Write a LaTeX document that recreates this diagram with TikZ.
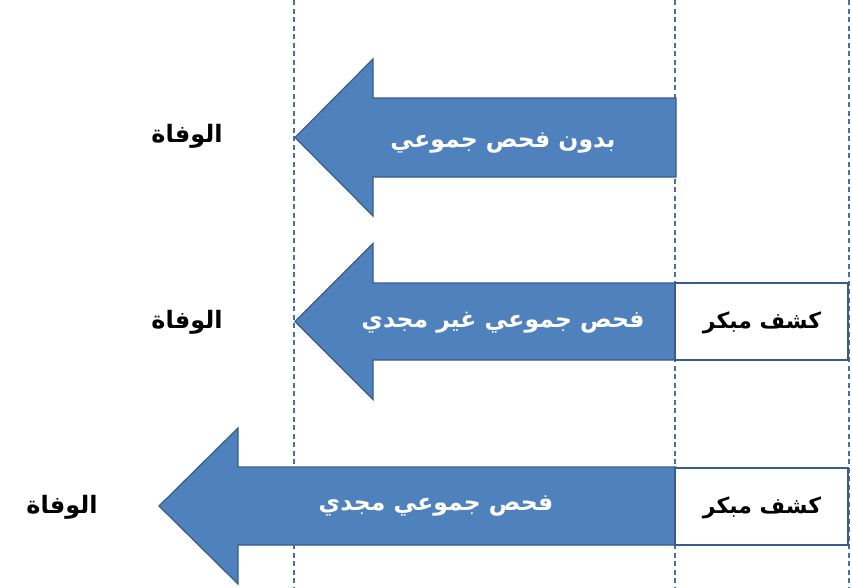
\documentclass[tikz,border=0pt]{standalone}
\usepackage{fontspec}
\TeXXeTstate=1
\newfontfamily\arabicfont[Script=Arabic]{DejaVu Sans}
\definecolor{arfill}{HTML}{4F81BD}
\definecolor{ardraw}{HTML}{385D8A}
\definecolor{guide}{HTML}{4A6FA5}
\tikzset{
  arrowshape/.style={fill=arfill, draw=ardraw, line width=1.2pt, line join=miter},
  boxshape/.style={fill=white, draw=ardraw, line width=1.2pt},
  guideline/.style={draw=guide, line width=1.2pt, dash pattern=on 5pt off 3.5pt},
  intext/.style={text=white, font=\arabicfont\bfseries\fontsize{23.5}{26}\selectfont},
  boxtext/.style={text=black, font=\arabicfont\bfseries\fontsize{22}{25}\selectfont},
  deathtext/.style={text=black, font=\arabicfont\bfseries\fontsize{24}{27}\selectfont},
}
\begin{document}
\begin{tikzpicture}[x=1pt,y=-1pt]
\useasboundingbox (0,0) rectangle (852,587);
% guide lines
\draw[guideline] (294,0) -- (294,587);
\draw[guideline] (675,0) -- (675,587);
\draw[guideline] (849,0) -- (849,587);
% arrow 1
\draw[arrowshape] (676,98) -- (373,98) -- (373,59) -- (295,137.5) -- (373,216) -- (373,177) -- (676,177) -- cycle;
% arrow 2
\draw[arrowshape] (676,283) -- (373,283) -- (373,243.5) -- (295,321.5) -- (373,399.5) -- (373,360) -- (676,360) -- cycle;
\draw[boxshape] (675,283) rectangle (848,360);
% arrow 3
\draw[arrowshape] (676,467) -- (238,467) -- (238,428) -- (159,506) -- (238,584) -- (238,545) -- (676,545) -- cycle;
\draw[boxshape] (675,468) rectangle (848,545);
% texts
\node[intext] (t1) at (503,143) {\beginR بدون فحص جموعي\endR};
\node[intext] (t2) at (503,323) {\beginR فحص جموعي غير مجدي\endR};
\node[intext] (t3) at (436,506) {\beginR فحص جموعي مجدي\endR};
\node[boxtext] (b2) at (762,323) {\beginR كشف مبكر\endR};
\node[boxtext] (b3) at (762,508) {\beginR كشف مبكر\endR};
\node[deathtext] (d1) at (187,136) {\beginR الوفاة\endR};
\node[deathtext] (d2) at (187,322) {\beginR الوفاة\endR};
\node[deathtext] (d3) at (62,507) {\beginR الوفاة\endR};
\end{tikzpicture}
\end{document}
